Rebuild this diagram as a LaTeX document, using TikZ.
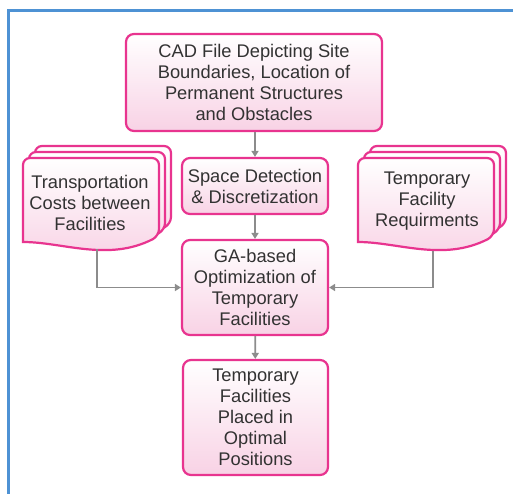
\documentclass[tikz,border=0pt]{standalone}
\usepackage{fontspec}
\setmainfont{Liberation Sans}
\usetikzlibrary{arrows.meta}
\definecolor{edgepink}{RGB}{232,52,143}
\definecolor{fillpink}{RGB}{248,210,229}
\definecolor{frameblue}{RGB}{78,146,212}
\definecolor{linkgray}{RGB}{140,140,140}
\definecolor{ink}{RGB}{50,50,50}

\begin{document}
\begin{tikzpicture}[x=1pt,y=-1pt,
  label font/.style={font=\fontsize{18.3}{21}\selectfont, text=ink},
  procbox/.style={draw=edgepink, line width=2.2pt, rounded corners=8pt,
    top color=white, bottom color=fillpink, align=center, inner sep=0pt,
    label font},
  doctext/.style={align=center, inner sep=0pt, label font},
  docpage/.style={draw=edgepink, line width=2.2pt, top color=white,
    bottom color=fillpink},
  link/.style={draw=linkgray, line width=1.8pt,
    -{Triangle[length=6pt,width=7pt]}},
  docsheet/.pic={
    \draw[docpage, rounded corners=7pt] (0,84) -- (0,0) -- (136,0) -- (136,78)
      [sharp corners] .. controls (85,104) and (40,84) .. (0,84) -- cycle;
  }
]
\useasboundingbox (0,0) rectangle (513,494);
\fill[white] (0,0) rectangle (513,494);

% outer frame
\draw[frameblue, line width=3pt] (8.5,494) -- (8.5,10.5) -- (513,10.5);

% stacked document sheets
\pic at (35,146) {docsheet};
\pic at (29,152) {docsheet};
\pic at (23,158) {docsheet};
\pic at (370,146) {docsheet};
\pic at (364,152) {docsheet};
\pic at (358,158) {docsheet};

% process boxes
\node[procbox, minimum width=256pt, minimum height=97pt] (cad) at (254,82.5)
  {CAD File Depicting Site\\Boundaries, Location of\\Permanent Structures\\and Obstacles};
\node[procbox, minimum width=146pt, minimum height=56pt] (space) at (255,186)
  {Space Detection\\\& Discretization};
\node[procbox, minimum width=146pt, minimum height=95pt] (ga) at (255,287.5)
  {GA-based\\Optimization of\\Temporary\\Facilities};
\node[procbox, minimum width=145pt, minimum height=115pt] (final) at (255.5,417.5)
  {Temporary\\Facilities\\Placed in\\Optimal\\Positions};

% document texts
\node[doctext] (trans) at (90,203) {Transportation\\Costs between\\Facilities};
\node[doctext] (req) at (427,201) {Temporary\\Facility\\Requirments};
\coordinate (transbot) at (97,249);
\coordinate (reqbot) at (433,251);

% connectors
\draw[link] (cad.south -| space.north) -- (space.north);
\draw[link] (space) -- (ga);
\draw[link] (ga) -- (final);
\draw[link] (transbot) |- (ga.west);
\draw[link] (reqbot) |- (ga.east);
\end{tikzpicture}
\end{document}
